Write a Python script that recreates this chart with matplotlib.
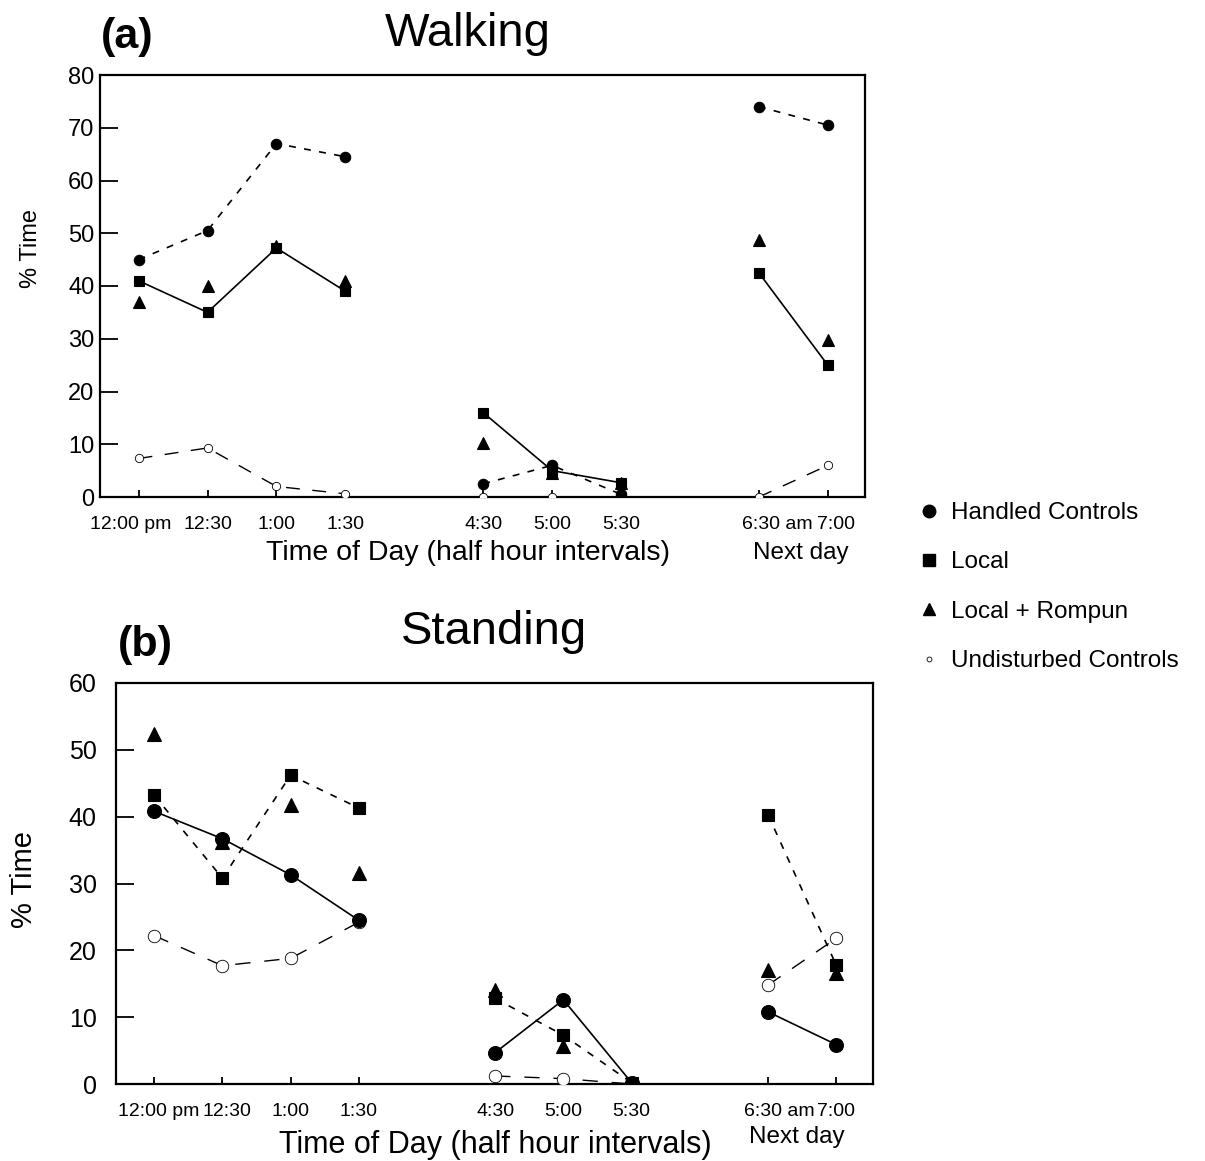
import numpy as np
import matplotlib
matplotlib.use("Agg")
import matplotlib.pyplot as plt
from matplotlib.lines import Line2D
import matplotlib.transforms as mtransforms

plt.rcParams['font.family'] = ['Liberation Sans', 'DejaVu Sans']
plt.rcParams['lines.scale_dashes'] = False

# ---------------- data ----------------
time_labels = ["12:00 pm", "12:30", "1:00", "1:30", "4:30", "5:00", "5:30", "6:30 am", "7:00"]
time_pos = [0, 1, 2, 3, 5, 6, 7, 9, 10]          # compressed half-hour slots
segments = [[0, 1, 2, 3], [4, 5, 6], [7, 8]]     # indices of observation runs

series_names = ["Handled Controls", "Local", "Local + Rompun", "Undisturbed Controls"]

walk_handled     = [45.0, 50.5, 67.0, 64.5, 2.5, 6.0, 0.5, 74.0, 70.5]
walk_local       = [41.0, 35.0, 47.2, 39.0, 16.0, 5.0, 2.7, 42.5, 25.0]
walk_rompun      = [37.0, 40.0, 47.6, 41.0, 10.3, 4.6, 2.6, 48.8, 29.8]
walk_undisturbed = [7.3, 9.3, 2.0, 0.6, 0.0, 0.0, 0.0, 0.0, 6.0]

stand_handled     = [40.8, 36.7, 31.3, 24.5, 4.7, 12.6, 0.2, 10.8, 5.9]
stand_local       = [43.2, 30.8, 46.2, 41.3, 12.8, 7.3, 0.2, 40.3, 17.8]
stand_rompun      = [52.3, 36.2, 41.8, 31.5, 14.0, 5.7, 0.2, 17.0, 16.6]
stand_undisturbed = [22.2, 17.7, 18.8, 24.2, 1.2, 0.8, 0.0, 14.8, 21.8]

W, H = 1205, 1161
fig = plt.figure(figsize=(W / 100, H / 100), dpi=100)


def frac_rect(l, t, r, b):
    return [l / W, 1 - b / H, (r - l) / W, (b - t) / H]


def draw_series(ax, vals, marker, ms, ls, dashes, lw, mfc, mec, mew, z, connect=True):
    x = np.array(time_pos, float)
    y = np.array(vals, float)
    if connect:
        for seg in segments:
            kw = dict(color='black', lw=lw, zorder=z)
            if dashes is not None:
                kw['dashes'] = dashes
            ax.plot(x[seg], y[seg], linestyle=ls, **kw)
    ax.plot(x, y, linestyle='none', marker=marker, ms=ms, mfc=mfc, mec=mec, mew=mew, zorder=z + 1)


def style_axes(ax, ymax, ytick_fs, ypad, xtick_fs, xpad, label_off):
    ax.set_xlim(-0.56, 10.54)
    ax.set_ylim(0, ymax)
    ax.set_yticks(np.arange(0, ymax + 1, 10))
    ax.set_xticks(time_pos)
    ax.set_xticklabels(time_labels)
    ax.tick_params(axis='y', direction='in', length=13, width=1.3, labelsize=ytick_fs, pad=ypad)
    ax.tick_params(axis='x', direction='in', length=5, width=1.3, labelsize=xtick_fs, pad=xpad)
    for s in ax.spines.values():
        s.set_linewidth(1.6)
    for lab, off in zip(ax.get_xticklabels(), label_off):
        lab.set_transform(lab.get_transform() +
                          mtransforms.ScaledTranslation(off / 100, 0, fig.dpi_scale_trans))


# ---------------- panel (a) Walking ----------------
axa = fig.add_axes(frac_rect(100, 75, 865, 497))
draw_series(axa, walk_undisturbed, 'o', 6, '--', (10, 9), 1.0, 'white', 'black', 0.6, 2)
draw_series(axa, walk_handled, 'o', 7.5, '--', (5, 6), 1.2, 'black', 'black', 0.8, 4)
draw_series(axa, walk_local, 's', 7, '-', None, 1.2, 'black', 'black', 0.8, 6)
draw_series(axa, walk_rompun, '^', 8.5, '-', None, 1.2, 'black', 'black', 0.8, 8, connect=False)
style_axes(axa, 80, 17, 4, 14, 14, [-8, 0, 0, 0, 0, 0, 0, 18, 8])
axa.text((468 - 100) / 765, -(553 - 497) / 422, "Time of Day (half hour intervals)",
         transform=axa.transAxes, ha='center', va='center', fontsize=20.5)
axa.text((801 - 100) / 765, -(553 - 497) / 422, "Next day",
         transform=axa.transAxes, ha='center', va='center', fontsize=17.5)
axa.text(-(100 - 31) / 765, (497 - 248) / 422, "% Time", rotation=90,
         transform=axa.transAxes, ha='center', va='center', fontsize=17)
fig.text(127 / W, 1 - 37 / H, "(a)", fontsize=31, fontweight='bold', ha='center', va='center')
fig.text(468 / W, 1 - 34 / H, "Walking", fontsize=34, ha='center', va='center')

# ---------------- panel (b) Standing ----------------
axb = fig.add_axes(frac_rect(116, 683, 873, 1084))
draw_series(axb, stand_undisturbed, 'o', 9, '--', (11, 10), 1.0, 'white', 'black', 0.6, 2)
draw_series(axb, stand_local, 's', 9, '--', (5, 6), 1.2, 'black', 'black', 0.8, 4)
draw_series(axb, stand_rompun, '^', 10.5, '-', None, 1.2, 'black', 'black', 0.8, 6, connect=False)
draw_series(axb, stand_handled, 'o', 10, '-', None, 1.2, 'black', 'black', 0.8, 8)
style_axes(axb, 60, 18, 14, 14, 14, [4, 5, 0, 0, 0, 0, 0, 11, 0])
axb.text((495 - 116) / 757, -(1145 - 1084) / 401, "Time of Day (half hour intervals)",
         transform=axb.transAxes, ha='center', va='center', fontsize=22)
axb.text((797 - 116) / 757, -(1137 - 1084) / 401, "Next day",
         transform=axb.transAxes, ha='center', va='center', fontsize=17.5)
axb.text(-(116 - 24) / 757, (1084 - 880) / 401, "% Time", rotation=90,
         transform=axb.transAxes, ha='center', va='center', fontsize=21)
fig.text(145 / W, 1 - 645 / H, "(b)", fontsize=31, fontweight='bold', ha='center', va='center')
fig.text(494 / W, 1 - 632 / H, "Standing", fontsize=34, ha='center', va='center')

# ---------------- legend ----------------
handles = [
    Line2D([], [], ls='none', marker='o', ms=9, mfc='black', mec='black'),
    Line2D([], [], ls='none', marker='s', ms=8, mfc='black', mec='black'),
    Line2D([], [], ls='none', marker='^', ms=9, mfc='black', mec='black'),
    Line2D([], [], ls='none', marker='o', ms=3.5, mfc='white', mec='black', mew=0.6),
]
fig.legend(handles, series_names, loc='upper left', bbox_to_anchor=(919 / W, 1 - 502 / H),
           frameon=False, fontsize=17.5, handlelength=0.8, handletextpad=0.5,
           labelspacing=1.13, borderpad=0, borderaxespad=0)

fig.savefig("out.png", dpi=100)
